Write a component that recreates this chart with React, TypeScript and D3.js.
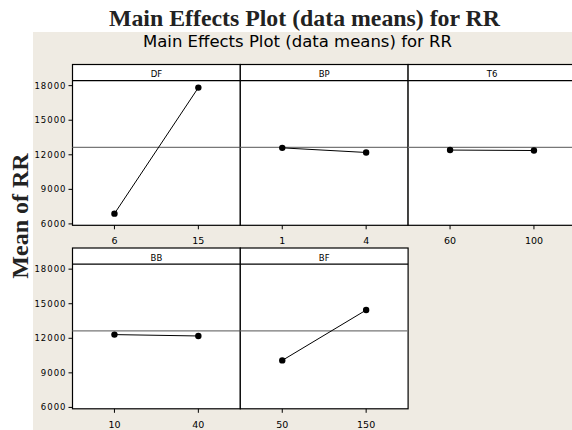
import React from "react";
import * as d3 from "d3";

const factors = ["DF", "BP", "T6", "BB", "BF"];
const levels: string[][] = [["6", "15"], ["1", "4"], ["60", "100"], ["10", "40"], ["50", "150"]];
const means: number[][] = [[6890, 17830], [12600, 12200], [12410, 12370], [12320, 12200], [10080, 14450]];
const grandMean = 12640;
const yTicks = [6000, 9000, 12000, 15000, 18000];
const yDomain = [5880, 18430];

const W = 572, H = 430;
const colX0 = 72.5, colW = 167.8;
const rowTop = [64.5, 248];
const stripH = 16.2, plotH = 144.6;

export default function App() {
  const panels = factors.map((f, i) => {
    const col = i < 3 ? i : i - 3;
    const row = i < 3 ? 0 : 1;
    const x0 = colX0 + col * colW;
    const top = rowTop[row];
    const pTop = top + stripH;
    const pBot = pTop + plotH;
    const x = d3.scalePoint<string>().domain(levels[i]).range([x0, x0 + colW]).padding(0.5);
    const y = d3.scaleLinear().domain(yDomain).range([pBot, pTop]);
    const pts = levels[i].map((l, j) => [x(l) as number, y(means[i][j])] as [number, number]);
    const line = d3.line()(pts) as string;
    return { f, i, col, row, x0, top, pTop, pBot, x, y, pts, line };
  });

  return (
    <svg width={W} height={H} style={{ position: "absolute", left: 0, top: 0, background: "#fff" }}>
      <rect x={33} y={32} width={W - 33} height={H - 32} fill="#efebe3" />
      <text x={304.5} y={26} textAnchor="middle" fontFamily="Liberation Serif, serif" fontWeight="bold" fontSize={24} fill="#222" textLength={391} lengthAdjust="spacingAndGlyphs">
        Main Effects Plot (data means) for RR
      </text>
      <text x={297.5} y={47} textAnchor="middle" fontFamily="DejaVu Sans, sans-serif" fontSize={15} fill="#000" textLength={309} lengthAdjust="spacingAndGlyphs">
        Main Effects Plot (data means) for RR
      </text>
      <text transform="translate(28,216) rotate(-90)" textAnchor="middle" fontFamily="Liberation Serif, serif" fontWeight="bold" fontSize={24} fill="#222">
        Mean of RR
      </text>
      {panels.map((p) => (
        <g key={p.f}>
          <rect x={p.x0} y={p.top} width={colW} height={stripH + plotH} fill="#fff" stroke="#000" strokeWidth={1.2} />
          <line x1={p.x0} x2={p.x0 + colW} y1={p.pTop} y2={p.pTop} stroke="#000" strokeWidth={1.2} />
          <text x={p.x0 + colW / 2} y={p.top + 12.5} textAnchor="middle" fontFamily="DejaVu Sans, sans-serif" fontSize={8.5} fill="#000">
            {p.f}
          </text>
          <line x1={p.x0} x2={p.x0 + colW} y1={p.y(grandMean)} y2={p.y(grandMean)} stroke="#777" strokeWidth={1.2} />
          <path d={p.line} fill="none" stroke="#000" strokeWidth={1} />
          {p.pts.map((pt, j) => (
            <circle key={j} cx={pt[0]} cy={pt[1]} r={3.2} fill="#000" />
          ))}
          {levels[p.i].map((l) => (
            <g key={l}>
              <line x1={p.x(l)} x2={p.x(l)} y1={p.pBot} y2={p.pBot + 4} stroke="#000" strokeWidth={1} />
              <text x={p.x(l)} y={p.pBot + 19} textAnchor="middle" fontFamily="DejaVu Sans, sans-serif" fontSize={9.5} fill="#000">
                {l}
              </text>
            </g>
          ))}
          {p.col === 0 &&
            yTicks.map((t) => (
              <g key={t}>
                <line x1={p.x0 - 4} x2={p.x0} y1={p.y(t)} y2={p.y(t)} stroke="#000" strokeWidth={1} />
                <text x={p.x0 - 6} y={p.y(t) + 3} textAnchor="end" fontFamily="DejaVu Sans, sans-serif" fontSize={8.5} letterSpacing={1} fill="#000">
                  {t}
                </text>
              </g>
            ))}
        </g>
      ))}
    </svg>
  );
}
